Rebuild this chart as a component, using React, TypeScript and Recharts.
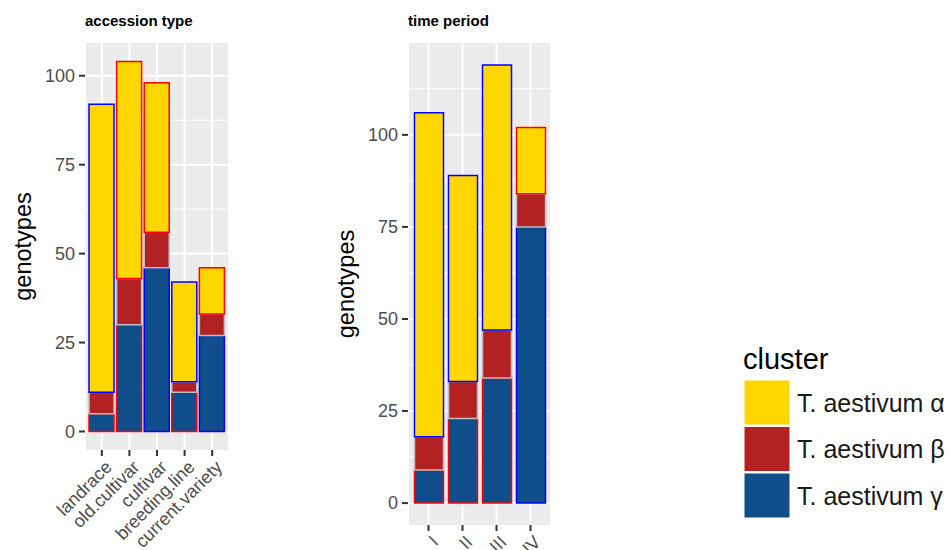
import { BarChart, Bar, XAxis, YAxis, CartesianGrid, Cell } from "recharts";

const accessionTypes = ["landrace", "old.cultivar", "cultivar", "breeding.line", "current.variety"];
const accessionAlpha = [81, 61, 42, 28, 13];
const accessionBeta = [6, 13, 10, 3, 6];
const accessionGamma = [5, 30, 46, 11, 27];
const accessionAlphaEdge = ["#0000FF", "#FF0000", "#FF0000", "#0000FF", "#FF0000"];
const accessionGammaEdge = ["#FF0000", "#FF0000", "#0000FF", "#FF0000", "#0000FF"];

const timePeriods = ["I", "II", "III", "IV"];
const periodAlpha = [88, 56, 72, 18];
const periodBeta = [9, 10, 13, 9];
const periodGamma = [9, 23, 34, 75];
const periodAlphaEdge = ["#0000FF", "#0000FF", "#0000FF", "#FF0000"];
const periodGammaEdge = ["#FF0000", "#FF0000", "#FF0000", "#0000FF"];

const clusterNames = ["T. aestivum α", "T. aestivum β", "T. aestivum γ"];
const clusterColors = ["#FFD700", "#B22222", "#104E8B"];
const betaEdge = "#BEBEBE";

const majorTicks = [0, 25, 50, 75, 100];
const accessionMinor = [12.5, 37.5, 62.5, 87.5];
const periodMinor = [12.5, 37.5, 62.5, 87.5, 112.5];

const FONT = '"Liberation Sans", Arial, sans-serif';

const RotTick = (props: any) => {
  const { x, y, payload } = props;
  return (
    <g transform={`translate(${x + 2},${y + 1})`}>
      <text
        x={0}
        y={0}
        dy="0.72em"
        textAnchor="end"
        transform="rotate(-45)"
        fill="#4D4D4D"
        fontSize={18}
        fontFamily={FONT}
      >
        {payload.value}
      </text>
    </g>
  );
};

interface PanelProps {
  categories: string[];
  alpha: number[];
  beta: number[];
  gamma: number[];
  alphaEdge: string[];
  gammaEdge: string[];
  domain: [number, number];
  minor: number[];
  width: number;
  axisWidth: number;
  right: number;
  xHeight: number;
  barSize: number;
  pad: number;
  labelX: number;
}

function Panel(p: PanelProps) {
  const data = p.categories.map((c, i) => ({
    name: c,
    gamma: p.gamma[i],
    beta: p.beta[i],
    alpha: p.alpha[i],
  }));
  return (
    <BarChart
      width={p.width}
      height={550}
      data={data}
      margin={{ top: 43, right: p.right, bottom: 0, left: 0 }}
      barSize={p.barSize}
    >
      <CartesianGrid
        fill="#EBEBEB"
        stroke="#FFFFFF"
        strokeWidth={2}
        horizontalValues={majorTicks}
      />
      <CartesianGrid
        stroke="#FFFFFF"
        strokeWidth={1}
        vertical={false}
        horizontalValues={p.minor}
      />
      <XAxis
        dataKey="name"
        height={p.xHeight}
        axisLine={false}
        tickLine={{ stroke: "#333333", strokeWidth: 2 }}
        tickSize={6}
        padding={{ left: p.pad, right: p.pad }}
        interval={0}
        tick={<RotTick />}
      />
      <YAxis
        type="number"
        domain={p.domain}
        allowDataOverflow
        ticks={majorTicks}
        width={p.axisWidth}
        axisLine={false}
        tickLine={{ stroke: "#333333", strokeWidth: 2 }}
        tickSize={6}
        tickMargin={4}
        tick={{ fill: "#4D4D4D", fontSize: 18, fontFamily: FONT }}
        label={{
          content: (lp: any) => {
            const vb = lp.viewBox || {};
            const cy = (vb.y ?? 43) + (vb.height ?? 400) / 2;
            return (
              <text
                x={p.labelX}
                y={cy}
                transform={`rotate(-90, ${p.labelX}, ${cy})`}
                textAnchor="middle"
                dominantBaseline="central"
                fontSize={23.5}
                fontFamily={FONT}
                fill="#000000"
              >
                genotypes
              </text>
            );
          },
        }}
      />
      <Bar dataKey="gamma" stackId="a" fill={clusterColors[2]} strokeWidth={1.5} isAnimationActive={false}>
        {data.map((d, i) => (
          <Cell key={d.name} stroke={p.gammaEdge[i]} />
        ))}
      </Bar>
      <Bar dataKey="beta" stackId="a" fill={clusterColors[1]} strokeWidth={1.5} isAnimationActive={false}>
        {data.map((d) => (
          <Cell key={d.name} stroke={betaEdge} />
        ))}
      </Bar>
      <Bar dataKey="alpha" stackId="a" fill={clusterColors[0]} strokeWidth={1.5} isAnimationActive={false}>
        {data.map((d, i) => (
          <Cell key={d.name} stroke={p.alphaEdge[i]} />
        ))}
      </Bar>
    </BarChart>
  );
}

export default function App() {
  return (
    <div style={{ position: "absolute", left: 0, top: 0, width: 950, height: 550, background: "#fff", overflow: "hidden" }}>
      <div style={{ position: "absolute", left: 0, top: 0 }}>
        <Panel
          categories={accessionTypes}
          alpha={accessionAlpha}
          beta={accessionBeta}
          gamma={accessionGamma}
          alphaEdge={accessionAlphaEdge}
          gammaEdge={accessionGammaEdge}
          domain={[-5.2, 109.2]}
          minor={accessionMinor}
          width={240}
          axisWidth={85}
          right={11}
          xHeight={100}
          barSize={25}
          pad={3}
          labelX={23}
        />
      </div>
      <div style={{ position: "absolute", left: 320, top: 0 }}>
        <Panel
          categories={timePeriods}
          alpha={periodAlpha}
          beta={periodBeta}
          gamma={periodGamma}
          alphaEdge={periodAlphaEdge}
          gammaEdge={periodGammaEdge}
          domain={[-5.95, 124.95]}
          minor={periodMinor}
          width={240}
          axisWidth={88}
          right={9}
          xHeight={25}
          barSize={29}
          pad={3.5}
          labelX={26}
        />
      </div>
      <svg width={950} height={550} style={{ position: "absolute", left: 0, top: 0, pointerEvents: "none" }}>
        <text x={85} y={26} fontSize={15} fontWeight="bold" fontFamily={FONT} fill="#000">
          accession type
        </text>
        <text x={408} y={26} fontSize={15} fontWeight="bold" fontFamily={FONT} fill="#000">
          time period
        </text>
        <text x={743} y={369} fontSize={29} fontFamily={FONT} fill="#000">
          cluster
        </text>
        {clusterNames.map((name, i) => (
          <g key={name}>
            <rect x={744} y={380 + i * 46.5} width={46} height={45} fill={clusterColors[i]} stroke="#FFFFFF" strokeWidth={1} />
            <text
              x={797}
              y={380 + i * 46.5 + 22.5}
              dominantBaseline="central"
              fontSize={25}
              fontFamily={FONT}
              fill="#1A1A1A"
            >
              {name}
            </text>
          </g>
        ))}
      </svg>
    </div>
  );
}
